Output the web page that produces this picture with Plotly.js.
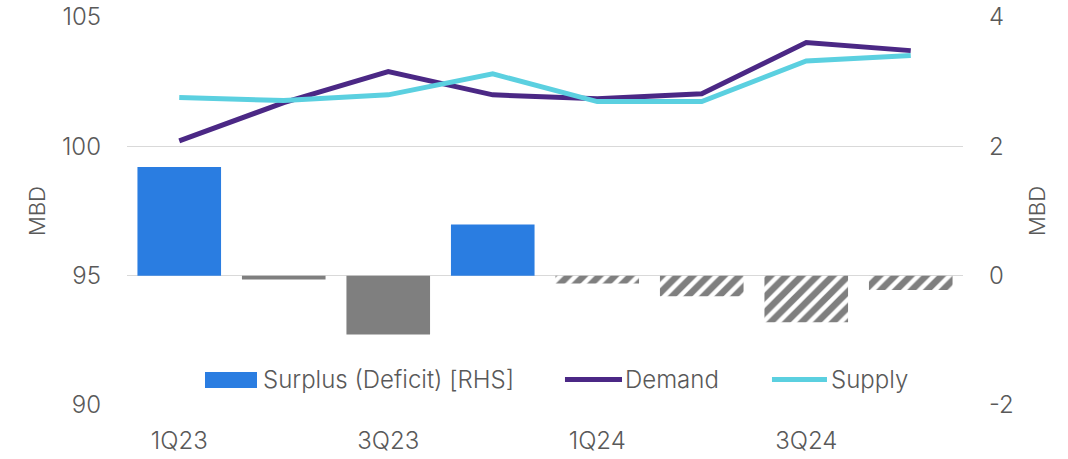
<!DOCTYPE html>
<html>
<head>
<meta charset="utf-8">
<script src="https://cdn.plot.ly/plotly-3.0.1.min.js"></script>
<style>html,body{margin:0;padding:0;background:#fff;}#chart{width:1068px;height:459px;}</style>
</head>
<body>
<div id="chart"></div>
<script>
const quarters = ["1Q23","2Q23","3Q23","4Q23","1Q24","2Q24","3Q24","4Q24"];
const tickLabels = ["1Q23","3Q23","1Q24","3Q24"];
const leftTicks = [90, 95, 100, 105];
const rightTicks = [-2, 0, 2, 4];
const rightTickText = ["-2", "0", "2", "4"];
const surplus = [1.68, -0.06, -0.91, 0.79, -0.12, -0.32, -0.72, -0.22];
const demand = [100.21, 101.69, 102.89, 101.99, 101.84, 102.03, 104.01, 103.70];
const supply = [101.89, 101.77, 101.99, 102.80, 101.73, 101.73, 103.30, 103.51];
const isForecast = [false, false, false, false, true, true, true, true];
const seriesNames = ["Surplus (Deficit) [RHS]", "Demand", "Supply"];

const BLUE = "#2a7de1", GREY = "#7f7f7f", PURPLE = "#4b2885", CYAN = "#5bd0e0";
const barColors = surplus.map((v, i) => isForecast[i] ? GREY : (v >= 0 ? BLUE : GREY));
const barShapes = isForecast.map(f => f ? "/" : "");

const fontFamily = "Inter, Roboto, 'Open Sans', sans-serif";
const textColor = "#595959";
const FS = 24;

const traces = [
  {
    type: "bar", name: seriesNames[0], x: quarters, y: surplus, yaxis: "y2",
    marker: {
      color: barColors,
      pattern: {shape: barShapes, fgcolor: GREY, bgcolor: "#ffffff", size: 11, solidity: 0.6, fillmode: "replace"},
      line: {width: 0}
    },
    width: 0.8, showlegend: false
  },
  {type: "scatter", mode: "lines", name: seriesNames[1], x: quarters, y: demand, line: {color: PURPLE, width: 5}, showlegend: false},
  {type: "scatter", mode: "lines", name: seriesNames[2], x: quarters, y: supply, line: {color: CYAN, width: 5}, showlegend: false}
];

// Custom legend (paper coordinates of plot area)
const legY = 0.066;
const shapes = [
  {type: "rect", xref: "paper", yref: "paper", x0: 0.0933, x1: 0.1555, y0: 0.0438, y1: 0.085, fillcolor: BLUE, line: {width: 0}},
  {type: "line", xref: "paper", yref: "paper", x0: 0.5239, x1: 0.5921, y0: legY, y1: legY, line: {color: PURPLE, width: 5}},
  {type: "line", xref: "paper", yref: "paper", x0: 0.7715, x1: 0.8373, y0: legY, y1: legY, line: {color: CYAN, width: 5}}
];
const legText = (x, t) => ({xref: "paper", yref: "paper", x: x, y: legY, text: t, showarrow: false,
  xanchor: "left", yanchor: "middle", borderpad: 0, font: {size: FS, color: textColor, family: fontFamily, weight: 300}});
const annotations = [legText(0.1615, seriesNames[0]), legText(0.5945, seriesNames[1]), legText(0.8405, seriesNames[2])];

const layout = {
  width: 1068, height: 459,
  margin: {l: 127, r: 105, t: 17, b: 54},
  paper_bgcolor: "#ffffff", plot_bgcolor: "#ffffff",
  font: {family: fontFamily, size: FS, color: textColor, weight: 300},
  showlegend: false,
  shapes: shapes,
  annotations: annotations,
  xaxis: {type: "category", categoryorder: "array", categoryarray: quarters,
          tickmode: "array", tickvals: tickLabels, ticktext: tickLabels,
          showgrid: false, zeroline: false, showline: false, ticks: "", ticklabelstandoff: 19,
          tickfont: {size: FS, color: textColor}},
  yaxis: {range: [90, 105], tickmode: "array", tickvals: leftTicks, showgrid: true, gridcolor: "#d9d9d9", gridwidth: 1.5,
          zeroline: false, showline: false, ticks: "", ticklabelstandoff: 25,
          tickfont: {size: FS, color: textColor},
          title: {text: "MBD", font: {size: 22, color: textColor}, standoff: 10}},
  yaxis2: {range: [-2, 4], tickmode: "array", tickvals: rightTicks, ticktext: rightTickText, overlaying: "y", side: "right", showgrid: false,
           zeroline: false, showline: false, ticks: "", ticklabelstandoff: 25,
           tickfont: {size: FS, color: textColor},
           title: {text: "MBD", font: {size: 22, color: textColor}, standoff: 16}},
  bargap: 0.2
};

Plotly.newPlot("chart", traces, layout, {staticPlot: true, displayModeBar: false});
</script>
</body>
</html>
